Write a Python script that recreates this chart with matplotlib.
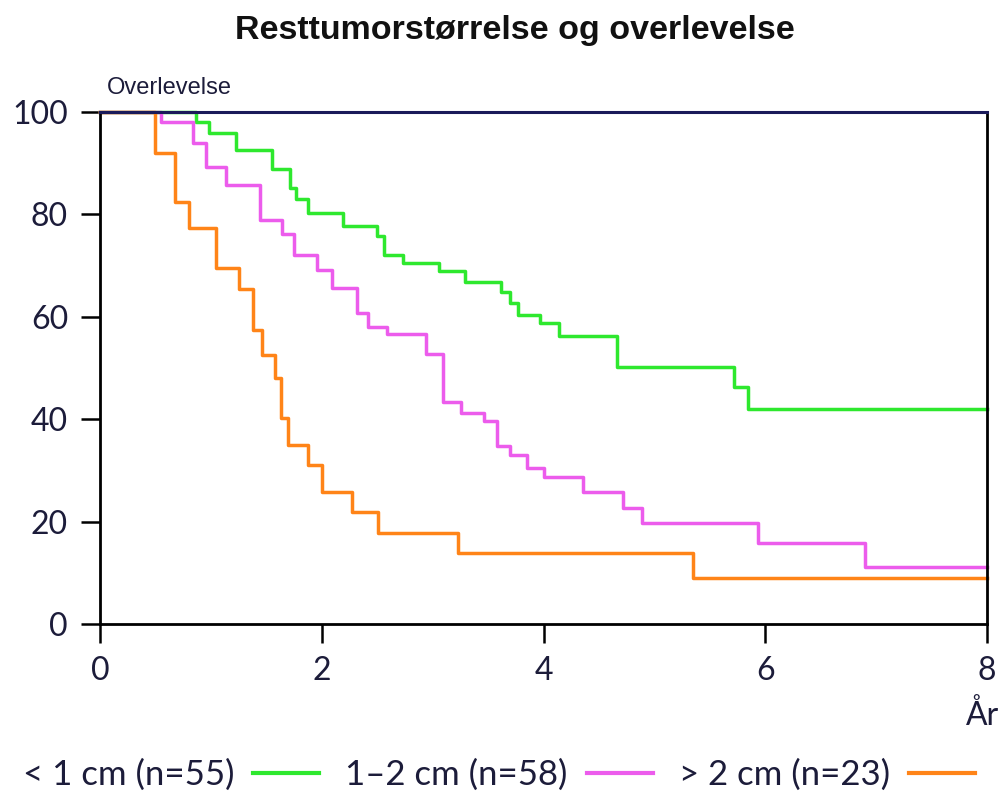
import matplotlib
matplotlib.use("Agg")
import matplotlib.pyplot as plt
from matplotlib.lines import Line2D

# Survival curves (years, percent surviving)
green_x = [0, 0.87, 0.98, 1.23, 1.55, 1.71, 1.77, 1.88, 2.19, 2.5, 2.56, 2.73, 3.06, 3.29,
           3.62, 3.70, 3.77, 3.97, 4.14, 4.66, 5.72, 5.84, 8]
green_y = [100, 98, 96, 92.6, 88.8, 85.2, 83, 80.2, 77.7, 75.8, 72, 70.6, 69, 66.8,
           64.8, 62.7, 60.3, 58.7, 56.3, 50.2, 46.3, 42, 42]

pink_x = [0, 0.55, 0.84, 0.96, 1.14, 1.44, 1.64, 1.75, 1.96, 2.09, 2.32, 2.42, 2.59, 2.94,
          3.09, 3.26, 3.46, 3.58, 3.70, 3.85, 4.0, 4.36, 4.72, 4.89, 5.93, 6.9, 8]
pink_y = [100, 98, 94, 89.3, 85.7, 79, 76.2, 72, 69.1, 65.6, 60.7, 58, 56.6, 52.7,
          43.3, 41.3, 39.6, 34.8, 33, 30.5, 28.7, 25.8, 22.7, 19.7, 15.8, 11.1, 11.1]

orange_x = [0, 0.5, 0.68, 0.8, 1.05, 1.25, 1.38, 1.46, 1.58, 1.63, 1.7, 1.88, 2.0, 2.27,
            2.51, 3.23, 5.35, 8]
orange_y = [100, 92, 82.4, 77.3, 69.5, 65.4, 57.4, 52.5, 48, 40.2, 35, 31, 25.8, 21.9,
            17.8, 13.9, 9, 9]

labels = ["< 1 cm (n=55)", "1\u20132 cm (n=58)", "> 2 cm (n=23)"]
colors = ["#2ee82e", "#ec5cec", "#ff8418"]
xticks = [0, 2, 4, 6, 8]
yticks = [0, 20, 40, 60, 80, 100]

ink = "#1c1c3a"
tick_font = "Lato"

fig = plt.figure(figsize=(9.98, 8.02), dpi=100)
ax = fig.add_axes([0.1002, 0.2219, 0.8888, 0.6384])

series = [(green_x, green_y), (pink_x, pink_y), (orange_x, orange_y)]
for (xs, ys), c in zip(series, colors):
    ax.step(xs, ys, where="post", color=c, lw=2.5, clip_on=False, zorder=2)

ax.set_xlim(0, 8)
ax.set_ylim(0, 100)
ax.set_xticks(xticks)
ax.set_yticks(yticks)
ax.tick_params(direction="out", length=14, width=1.8, colors="black", labelcolor=ink,
               labelsize=23)
ax.tick_params(axis="x", pad=9)
ax.tick_params(axis="y", pad=9)
for lab in ax.get_xticklabels() + ax.get_yticklabels():
    lab.set_fontfamily(tick_font)

for side in ["left", "bottom", "right"]:
    ax.spines[side].set_linewidth(2)
    ax.spines[side].set_color("black")
ax.spines["top"].set_linewidth(2.2)
ax.spines["top"].set_color("#1a1a5a")
for s in ax.spines.values():
    s.set_zorder(3)

fig.text(0.516, 0.962, "Resttumorstørrelse og overlevelse", ha="center", va="center",
         fontsize=24.5, fontweight="bold", family="Liberation Sans", color="#111111")
fig.text(0.107, 0.89, "Overlevelse", ha="left", va="center", fontsize=17,
         family="Liberation Sans", color=ink)
fig.text(0.985, 0.108, "År", ha="center", va="center", fontsize=23,
         family=tick_font, color=ink)

handles = [Line2D([0], [0], color=c, lw=3) for c in colors]
fig.legend(handles, labels, loc="center", bbox_to_anchor=(0.5, 0.034), ncol=3,
           markerfirst=False, frameon=False, handlelength=1.9, handletextpad=0.55,
           columnspacing=0.75, prop={"family": tick_font, "size": 25}, labelcolor=ink)

fig.savefig("out.png", dpi=100, facecolor="white")
